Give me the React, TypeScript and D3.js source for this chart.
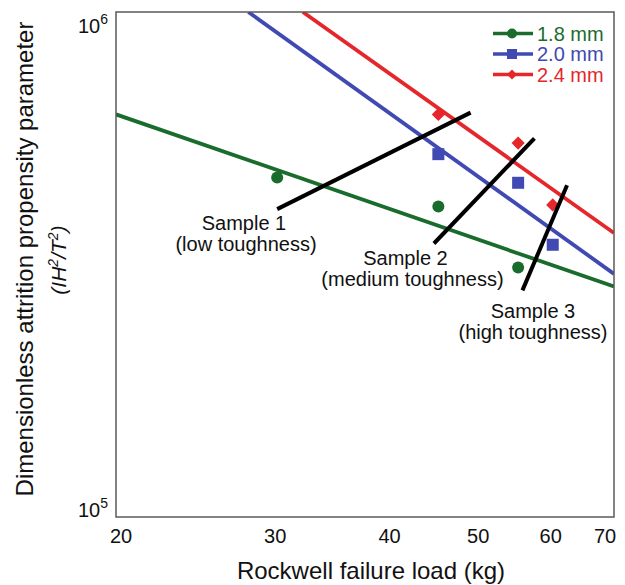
import React from "react";
import * as d3 from "d3";

// Rockwell failure load (kg) vs dimensionless attrition propensity parameter
const green18 = [
  { x: 30, y: 4.70e5 },
  { x: 45, y: 4.12e5 },
  { x: 55, y: 3.12e5 },
];
const blue20 = [
  { x: 45, y: 5.23e5 },
  { x: 55, y: 4.59e5 },
  { x: 60, y: 3.46e5 },
];
const red24 = [
  { x: 45, y: 6.27e5 },
  { x: 55, y: 5.50e5 },
  { x: 60, y: 4.15e5 },
];

// power-law fit lines, given by their two end points
const fit18 = [[20, 6.27e5], [70, 2.86e5]];
const fit20 = [[27.9, 1.0e6], [70, 3.03e5]];
const fit24 = [[32, 1.0e6], [70, 3.65e5]];

// black lines joining each sample
const sampleLines = [
  [[30, 4.07e5], [48.8, 6.32e5]],
  [[44.5, 3.48e5], [57.3, 5.62e5]],
  [[62.2, 4.54e5], [55.6, 2.81e5]],
];

const xTicks = [20, 30, 40, 50, 60, 70];
const yTicks = [1e5, 1e6];
const seriesNames = ["1.8 mm", "2.0 mm", "2.4 mm"];

const GREEN = "#1a6c2d";
const BLUE = "#4149b3";
const RED = "#e5262a";
const FONT = "'Liberation Sans', Arial, Helvetica, sans-serif";

export default function App() {
  const left = 116, right = 614, top = 12, bottom = 517;
  const x = d3.scaleLog().domain([20, 70]).range([left, right]);
  const y = d3.scaleLog().domain([1e5, 1e6]).range([bottom, top]);
  const line = d3.line<number[]>().x(d => x(d[0])).y(d => y(d[1]));

  const series = [
    { name: seriesNames[0], color: GREEN, pts: green18, fit: fit18, shape: "circle" },
    { name: seriesNames[1], color: BLUE, pts: blue20, fit: fit20, shape: "square" },
    { name: seriesNames[2], color: RED, pts: red24, fit: fit24, shape: "diamond" },
  ];

  const marker = (shape: string, cx: number, cy: number, color: string, s: number) => {
    if (shape === "circle") return <circle cx={cx} cy={cy} r={s * 0.5} fill={color} />;
    if (shape === "square")
      return <rect x={cx - s * 0.5} y={cy - s * 0.5} width={s} height={s} fill={color} />;
    const h = s * 0.55;
    return <path d={`M${cx},${cy - h}L${cx + h},${cy}L${cx},${cy + h}L${cx - h},${cy}Z`} fill={color} />;
  };

  const notes = [
    { lines: ["Sample 1", "(low toughness)"], cx: [244, 246], by: [229.5, 250.5] },
    { lines: ["Sample 2", "(medium toughness)"], cx: [405.5, 412.5], by: [264.5, 285.5] },
    { lines: ["Sample 3", "(high toughness)"], cx: [533, 533], by: [317.5, 339] },
  ];

  const legendY = [33.5, 54, 74.5];

  return (
    <svg width={625} height={585} style={{ position: "fixed", left: 0, top: 0, background: "#fff" }}
      fontFamily={FONT}>
      <defs>
        <clipPath id="plot">
          <rect x={left} y={top} width={right - left} height={bottom - top} />
        </clipPath>
      </defs>

      {/* fits */}
      <g clipPath="url(#plot)">
        {series.map(s => (
          <path key={s.name} d={line(s.fit) || ""} stroke={s.color} strokeWidth={3.8} fill="none" />
        ))}
      </g>

      {/* data markers */}
      {series.map(s => (
        <g key={s.name + "-pts"}>
          {s.pts.map((p, i) => (
            <g key={i}>{marker(s.shape, x(p.x), y(p.y), s.color, 12)}</g>
          ))}
        </g>
      ))}

      {/* sample lines */}
      {sampleLines.map((l, i) => (
        <path key={i} d={line(l) || ""} stroke="#000" strokeWidth={4} fill="none" />
      ))}

      {/* frame */}
      <rect x={left} y={top} width={right - left} height={bottom - top} fill="none" stroke="#5a5a5a" strokeWidth={1.5} />

      {/* x tick labels */}
      {xTicks.map((t, i) => (
        <text key={t} x={x(t) + (i === 0 ? 5 : i === xTicks.length - 1 ? -9 : -2)} y={543}
          textAnchor="middle" fontSize={20} fill="#111">{t}</text>
      ))}

      {/* y tick labels */}
      {yTicks.map((t, i) => (
        <text key={t} x={108} y={y(t) + (i === 0 ? 0 : 21)} textAnchor="end" fontSize={20} fill="#111">
          10<tspan fontSize={14} dy={-9}>{Math.round(Math.log10(t))}</tspan>
        </text>
      ))}

      {/* axis titles */}
      <text x={(left + right) / 2 + 6} y={579} textAnchor="middle" fontSize={24} fill="#111">
        Rockwell failure load (kg)
      </text>
      <text transform="translate(33,259) rotate(-90)" textAnchor="middle" fontSize={24} fill="#111">
        Dimensionless attrition propensity parameter
      </text>
      <text transform="translate(66,260) rotate(-90)" textAnchor="middle" fontSize={21} fontStyle="italic" fill="#111">
        (IH<tspan fontSize={14} dy={-8}>2</tspan><tspan dy={8}>/T</tspan><tspan fontSize={14} dy={-8}>2</tspan><tspan dy={8}>)</tspan>
      </text>

      {/* sample annotations */}
      {notes.map((n, i) => (
        <g key={i}>
          {n.lines.map((t, j) => (
            <text key={j} x={n.cx[j]} y={n.by[j]} textAnchor="middle" fontSize={20} fill="#111">{t}</text>
          ))}
        </g>
      ))}

      {/* legend */}
      {series.map((s, i) => (
        <g key={s.name + "-leg"}>
          <line x1={493} x2={533} y1={legendY[i]} y2={legendY[i]} stroke={s.color} strokeWidth={3.6} />
          {marker(s.shape, 512, legendY[i], s.color, s.shape === "diamond" ? 9 : 10)}
          <text x={537} y={legendY[i] + 7} fontSize={20} fill={s.color}>{s.name}</text>
        </g>
      ))}
    </svg>
  );
}
